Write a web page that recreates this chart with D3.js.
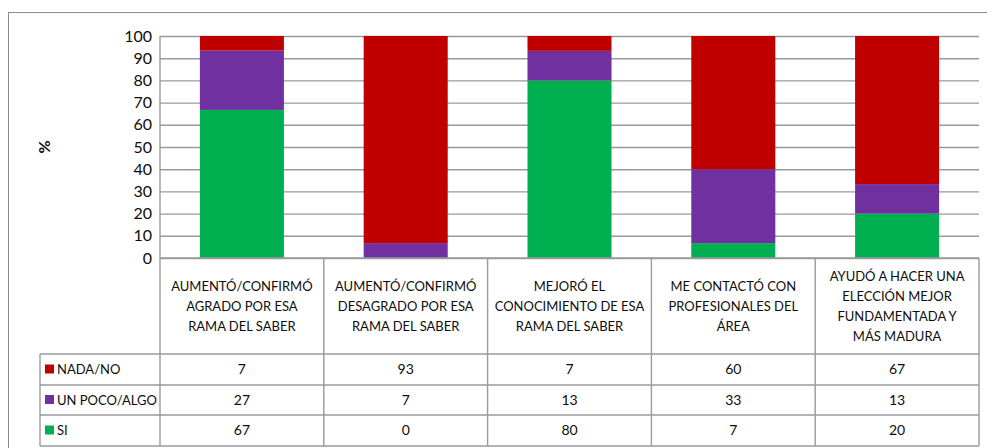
<!DOCTYPE html>
<html>
<head>
<meta charset="utf-8">
<script src="https://cdn.jsdelivr.net/npm/d3@7"></script>
<style>
  body { margin: 0; background: #fff; }
  text { font-family: Lato, "Open Sans", sans-serif; fill: #0d0d0d; }
</style>
</head>
<body>
<svg id="chart" width="987" height="448"></svg>
<script>
// --- data ---
const categories = [
  ["AUMENTÓ/CONFIRMÓ", "AGRADO POR ESA", "RAMA DEL SABER"],
  ["AUMENTÓ/CONFIRMÓ", "DESAGRADO POR ESA", "RAMA DEL SABER"],
  ["MEJORÓ EL", "CONOCIMIENTO DE ESA", "RAMA DEL SABER"],
  ["ME CONTACTÓ CON", "PROFESIONALES DEL", "ÁREA"],
  ["AYUDÓ A HACER UNA", "ELECCIÓN MEJOR", "FUNDAMENTADA Y", "MÁS MADURA"]
];
const seriesNames = ["NADA/NO", "UN POCO/ALGO", "SI"];
const nadaNo = [6.7, 93.3, 6.7, 60, 66.7];
const unPocoAlgo = [26.7, 6.7, 13.3, 33.3, 13.3];
const si = [66.7, 0, 80, 6.7, 20];
const yTicks = [0, 10, 20, 30, 40, 50, 60, 70, 80, 90, 100];
const colors = { "NADA/NO": "#c00000", "UN POCO/ALGO": "#7030a0", "SI": "#00b050" };

const rows = categories.map((c, i) => ({
  i: i, "NADA/NO": nadaNo[i], "UN POCO/ALGO": unPocoAlgo[i], "SI": si[i]
}));

// --- layout ---
const plot = { left: 160, right: 979, top: 36, bottom: 258 };
const tableRows = [354, 385, 415, 446]; // bottom of header, then each series row
const legendLeft = 40;
const lineColor = "#9a9a9a";

const svg = d3.select("#chart");

// outer frame
svg.append("rect")
  .attr("x", 8.5).attr("y", 12.5)
  .attr("width", 1000).attr("height", 500)
  .attr("fill", "none").attr("stroke", "#8c8c8c").attr("stroke-width", 1);

const x = d3.scaleBand()
  .domain(d3.range(categories.length))
  .range([plot.left, plot.right])
  .paddingInner(0.487)
  .paddingOuter(0.2435);

const y = d3.scaleLinear().domain([0, 100]).range([plot.bottom, plot.top]).clamp(true);

// --- gridlines ---
svg.append("g")
  .attr("transform", `translate(${plot.left},0)`)
  .call(d3.axisLeft(y).tickValues(yTicks).tickSize(-(plot.right - plot.left)).tickFormat(""))
  .call(g => g.select(".domain").remove())
  .call(g => g.selectAll("line").attr("stroke", lineColor).attr("stroke-width", 1.4));

// plot left border
svg.append("line")
  .attr("x1", plot.left).attr("x2", plot.left)
  .attr("y1", plot.top).attr("y2", plot.bottom)
  .attr("stroke", lineColor).attr("stroke-width", 1.4);

// --- y tick labels ---
svg.append("g")
  .attr("transform", `translate(${plot.left - 6},0)`)
  .call(d3.axisLeft(y).tickValues(yTicks).tickSize(0).tickPadding(2))
  .call(g => g.select(".domain").remove())
  .call(g => g.selectAll("text")
    .style("font-family", "Lato, sans-serif")
    .style("font-size", "16px")
    .attr("fill", "#0d0d0d"));

// y axis title
svg.append("text")
  .attr("transform", "translate(50,147) rotate(-90)")
  .attr("text-anchor", "middle")
  .style("font-size", "16px")
  .style("font-weight", "bold")
  .text("%");

// --- stacked bars ---
const stack = d3.stack().keys(["SI", "UN POCO/ALGO", "NADA/NO"]);
const layers = stack(rows);

svg.append("g")
  .selectAll("g")
  .data(layers)
  .join("g")
  .attr("fill", d => colors[d.key])
  .selectAll("rect")
  .data(d => d)
  .join("rect")
  .attr("x", d => x(d.data.i))
  .attr("width", x.bandwidth())
  .attr("y", d => y(d[1]))
  .attr("height", d => y(d[0]) - y(d[1]));

// --- data table ---
const step = x.step();
const colLeft = i => plot.left + i * step;
const table = svg.append("g").attr("stroke", lineColor).attr("stroke-width", 1.4);

// horizontal lines
table.append("line").attr("x1", plot.left).attr("x2", plot.right).attr("y1", plot.bottom).attr("y2", plot.bottom);
tableRows.forEach(yy => {
  table.append("line").attr("x1", legendLeft).attr("x2", plot.right).attr("y1", yy).attr("y2", yy);
});
// vertical lines
d3.range(categories.length + 1).forEach(i => {
  table.append("line")
    .attr("x1", colLeft(i)).attr("x2", colLeft(i))
    .attr("y1", plot.bottom).attr("y2", tableRows[tableRows.length - 1]);
});
table.append("line")
  .attr("x1", legendLeft).attr("x2", legendLeft)
  .attr("y1", tableRows[0]).attr("y2", tableRows[tableRows.length - 1]);

// category headers
const lineH = 20;
const headerMid = (plot.bottom + tableRows[0]) / 2;
categories.forEach((lines, i) => {
  const t = svg.append("text")
    .attr("text-anchor", "middle")
    .style("font-size", "13px");
  const y0 = headerMid - (lines.length - 1) * lineH / 2;
  lines.forEach((ln, k) => {
    t.append("tspan")
      .attr("x", colLeft(i) + step / 2)
      .attr("y", y0 + k * lineH)
      .attr("dy", "0.35em")
      .text(ln);
  });
});

// series rows
const fmt = d3.format(".0f");
const seriesValues = [nadaNo, unPocoAlgo, si];
seriesNames.forEach((name, r) => {
  const top = tableRows[r], bot = tableRows[r + 1];
  const mid = (top + bot) / 2;
  svg.append("rect")
    .attr("x", 45).attr("y", mid - 5)
    .attr("width", 9).attr("height", 9)
    .attr("fill", colors[name]);
  svg.append("text")
    .attr("x", 57).attr("y", mid).attr("dy", "0.35em")
    .style("font-size", "13px")
    .text(name);
  seriesValues[r].forEach((v, i) => {
    svg.append("text")
      .attr("x", colLeft(i) + step / 2).attr("y", mid).attr("dy", "0.35em")
      .attr("text-anchor", "middle")
      .style("font-size", "14px")
      .text(fmt(v));
  });
});
</script>
</body>
</html>
